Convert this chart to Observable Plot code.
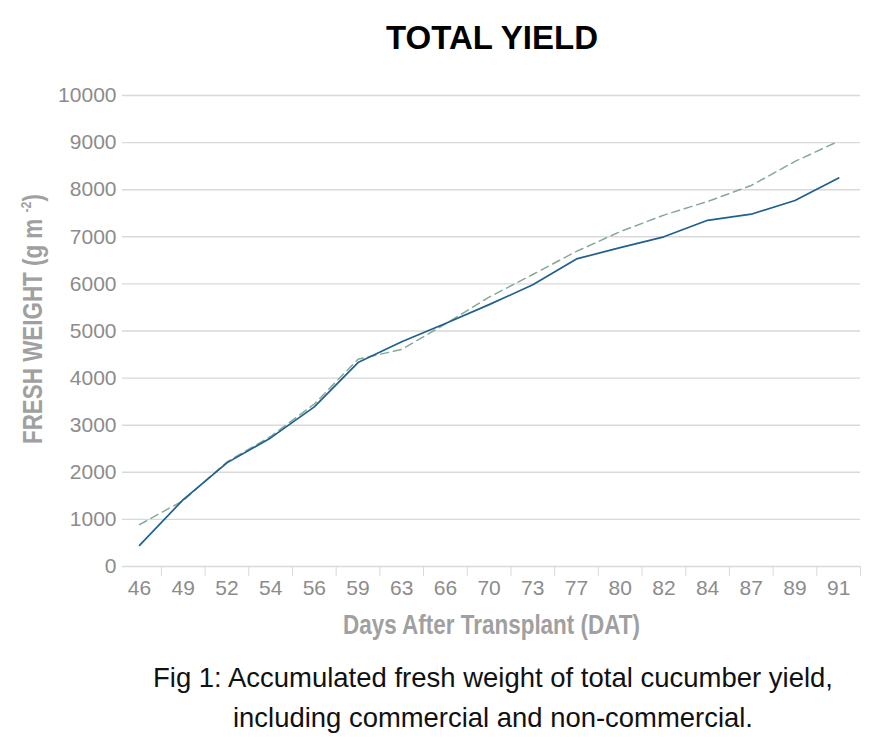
<!DOCTYPE html>
<html>
<head>
<meta charset="utf-8">
<script src="https://cdn.jsdelivr.net/npm/d3@7"></script>
<script src="https://cdn.jsdelivr.net/npm/@observablehq/plot@0.6"></script>
<style>
  html, body { margin: 0; padding: 0; background: #fff; }
  svg { display: block; }
</style>
</head>
<body>
<div id="chart"></div>
<script>
// ---- data ----
const days = [46, 49, 52, 54, 56, 59, 63, 66, 70, 73, 77, 80, 82, 84, 87, 89, 91];
const solidSeries  = [450, 1420, 2200, 2730, 3390, 4330, 4770, 5160, 5560, 5980, 6530, 6770, 7000, 7350, 7480, 7770, 8250];
const dashedSeries = [890, 1400, 2220, 2760, 3450, 4400, 4610, 5150, 5720, 6200, 6690, 7110, 7460, 7750, 8090, 8600, 9030];
const yTicks = [0, 1000, 2000, 3000, 4000, 5000, 6000, 7000, 8000, 9000, 10000];

const titleText = "TOTAL YIELD";
const yTitle = "FRESH WEIGHT (g m -2)";
const xTitle = "Days After Transplant (DAT)";
const captionLines = [
  "Fig 1: Accumulated fresh weight of total cucumber yield,",
  "including commercial and non-commercial."
];

const solidData = days.map((d, i) => ({i, day: d, value: solidSeries[i]}));
const dashedData = days.map((d, i) => ({i, day: d, value: dashedSeries[i]}));
const idx = days.map((d, i) => i);
const bounds = days.map((d, i) => i + 0.5);

const root = document.getElementById("chart");
const FONT = "'Liberation Sans', Arial, Helvetica, sans-serif";

// ---- title ----
const tsvg = d3.create("svg").attr("width", 893).attr("height", 70);
tsvg.append("text")
  .attr("x", 492).attr("y", 49)
  .attr("text-anchor", "middle")
  .attr("font-family", FONT).attr("font-weight", "bold").attr("font-size", 33)
  .attr("fill", "#000")
  .attr("textLength", 212).attr("lengthAdjust", "spacingAndGlyphs")
  .text(titleText);
root.appendChild(tsvg.node());

// ---- plot ----
const plot = Plot.plot({
  width: 893,
  height: 580,
  marginLeft: 122,
  marginRight: 33,
  marginTop: 25,
  marginBottom: 84,
  style: {color: "#8c8c8c", fontFamily: FONT, background: "white"},
  x: {type: "linear", domain: [-0.39, 16.5], label: null},
  y: {domain: [0, 10000], label: null},
  marks: [
    Plot.gridY(yTicks, {stroke: "#d9d9d9", strokeOpacity: 1, strokeWidth: 1.4}),
    Plot.axisY(yTicks, {tickSize: 0, tickPadding: 6, fontSize: 21, tickFormat: d => String(d), label: null}),
    Plot.axisX(bounds, {tickSize: 10, tickFormat: () => "", stroke: "#d9d9d9", strokeOpacity: 1, label: null}),
    Plot.axisX(idx, {tickSize: 0, tickPadding: 14, fontSize: 21, tickFormat: i => String(days[i]), label: null}),
    Plot.line(dashedData, {x: "i", y: "value", stroke: "#84a997", strokeWidth: 1.5, strokeDasharray: "8,5"}),
    Plot.line(solidData, {x: "i", y: "value", stroke: "#1f608f", strokeWidth: 1.7}),
    Plot.text([yTitle], {text: d => d, frameAnchor: "left", dx: -89, dy: -12, rotate: -90,
      textAnchor: "middle", lineAnchor: "middle",
      fontSize: 27, fontWeight: "bold", fill: "#a0a0a0"}),
    Plot.text([xTitle], {text: d => d, frameAnchor: "bottom", dy: 59,
      textAnchor: "middle", lineAnchor: "middle",
      fontSize: 28, fontWeight: "bold", fill: "#a0a0a0"})
  ]
});
root.appendChild(plot);

// narrow the axis titles and add the superscript
d3.select(plot).selectAll("text").filter(function() { return this.textContent === xTitle; })
  .attr("textLength", 297).attr("lengthAdjust", "spacingAndGlyphs");
d3.select(plot).selectAll("text").filter(function() { return this.textContent === yTitle; })
  .each(function() {
    const t = d3.select(this);
    t.text(null);
    t.append("tspan").text("FRESH WEIGHT (g m ");
    t.append("tspan").attr("font-size", 15).attr("dy", -11).text("-2");
    t.append("tspan").attr("dy", 11).text(")");
    t.attr("textLength", 250).attr("lengthAdjust", "spacingAndGlyphs");
  });

// ---- caption ----
const csvg = d3.create("svg").attr("width", 893).attr("height", 96);
const clens = [680, 520];
captionLines.forEach((line, k) => {
  csvg.append("text")
    .attr("x", 493).attr("y", 37 + 40 * k)
    .attr("text-anchor", "middle")
    .attr("font-family", FONT).attr("font-size", 28)
    .attr("fill", "#111")
    .attr("textLength", clens[k]).attr("lengthAdjust", "spacingAndGlyphs")
    .text(line);
});
root.appendChild(csvg.node());
</script>
</body>
</html>
